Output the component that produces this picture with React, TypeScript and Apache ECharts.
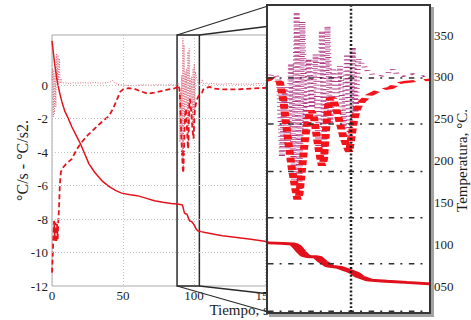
import React, { useEffect, useRef } from "react";
import * as echarts from "echarts";

// Cooling curve: temperature (°C), cooling rate (°C/s) and its derivative (°C/s²) versus time (s)
const TEMP_TIME = [0, 1, 2, 3, 4, 5.5, 7, 9, 11.5, 14, 17, 20, 23, 26, 30, 35, 40, 45, 49, 55, 60, 66, 72, 78, 84, 88, 90, 91.6, 92.1, 92.8, 93.3, 94.0, 95.0, 95.4, 95.8, 96.8, 98.2, 99.6, 100.4, 101.1, 102.5, 104.9, 107.7, 110.6, 115, 120, 130, 140, 152];
const TEMPERATURE = [343, 328, 314, 302, 292, 280, 270, 259, 250, 240, 230, 220, 208, 196, 186, 176, 169, 164, 161, 159, 158, 155, 152, 150, 148.5, 148, 147.5, 147, 145, 140, 137, 136, 136, 134, 132, 128, 127, 124, 122, 119, 116, 115, 114, 113, 111.5, 110, 108, 106, 103];

const RATE_TIME = [0, 0.5, 1.0, 1.5, 2.0, 2.5, 3.0, 3.5, 4.0, 4.5, 5.0, 5.5, 6.2, 7.5, 10, 14, 17, 20, 25, 30, 35, 40, 43, 46, 48, 50, 54, 58, 62, 67, 72, 77, 82, 86, 88.0, 88.4, 89.0, 89.7, 90.2, 90.6, 91.0, 91.4, 91.8, 92.2, 92.5, 92.9, 93.3, 93.7, 94.1, 94.5, 94.9, 95.3, 95.7, 96.0, 96.3, 96.6, 96.9, 97.3, 97.8, 98.3, 98.8, 99.3, 99.6, 99.9, 100.3, 100.8, 101.5, 102.5, 103.5, 104.5, 105.5, 106.5, 107.5, 109, 111, 114, 120, 130, 140, 152];
const COOLING_RATE = [-11.2, -10.2, -9.0, -8.1, -9.3, -8.2, -9.4, -8.3, -9.2, -8.0, -7.2, -6.0, -5.2, -4.95, -4.7, -4.4, -3.9, -3.5, -3.0, -2.6, -2.2, -1.85, -1.4, -0.8, -0.4, -0.25, -0.18, -0.22, -0.35, -0.5, -0.45, -0.35, -0.25, -0.2, -0.12, 0.0, -0.1, -0.2, -1.0, -2.0, -3.0, -3.9, -4.6, -5.25, -5.0, -3.8, -2.6, -1.8, -1.4, -1.6, -2.4, -3.2, -3.8, -3.5, -2.2, -1.2, -0.85, -0.9, -1.4, -2.0, -2.6, -3.0, -3.2, -2.6, -1.8, -1.3, -1.0, -0.75, -0.6, -0.5, -0.45, -0.25, -0.2, -0.15, -0.1, -0.2, -0.25, -0.25, -0.2, -0.15];

const ACC_TIME = [0, 0.4, 0.9, 1.3, 1.8, 2.2, 2.7, 3.2, 3.7, 4.2, 4.7, 5.2, 5.7, 6.3, 7, 9, 12, 15, 18, 22, 26, 30, 34, 38, 41, 42.5, 44, 46, 48, 52, 56, 60, 65, 70, 75, 80, 85, 88, 88.6, 89.2, 89.6, 90.0, 90.4, 90.8, 91.3, 91.7, 92.1, 92.5, 92.9, 93.3, 93.8, 94.3, 94.8, 95.2, 95.7, 96.1, 96.5, 96.9, 97.3, 97.8, 98.3, 98.8, 99.3, 99.7, 100.1, 100.5, 100.9, 101.5, 102.2, 103.0, 104, 105, 105.8, 106.6, 107.5, 108.5, 110, 111.5, 115, 120, 125, 130, 135, 140, 145, 152];
const ACCELERATION = [0.3, 1.0, -1.9, 0.9, -1.7, 0.6, -1.3, 1.9, 0.3, 1.8, 0.2, 1.6, 0.1, 0.4, 0.12, 0.15, 0.1, 0.15, 0.12, 0.15, 0.12, 0.16, 0.12, 0.15, 0.2, 0.28, 0.15, 0.05, 0.02, 0.0, -0.02, 0.0, 0.02, 0.0, 0.03, 0.0, 0.02, 0.0, 0.15, 0.05, -0.2, -3.4, -0.4, -3.1, 0.6, -4.4, 2.8, -4.9, 2.4, -2.4, 0.8, -1.3, 1.0, -3.0, 2.0, -3.6, 2.2, -2.0, 0.4, -0.9, 0.5, -2.2, 1.0, -2.8, 1.3, -1.5, 0.8, 0.55, 0.3, 0.12, 0.05, 0.15, 0.35, 0.1, 0.05, 0.15, 0.05, 0.1, 0.08, 0.05, 0.1, 0.05, 0.08, 0.05, 0.1, 0.05];

// Axis ranges and grid levels
const TIME_RANGE = [0, 266];
const TIME_STEP = 50;
const RATE_RANGE = [-12, 3];
const RATE_STEP = 2;
const TEMP_RANGE = [50, 350];
const TEMP_STEP = 50;
const RATE_GRID = [0, -2, -4, -6, -8, -10];

// Zoomed window
const ZOOM_BOX = [88, 103.7];
const INSET_TIME = [88, 111];
const INSET_RATE = [-10.07, 3.07];
const INSET_GRID_TIME = [100];

const W = 471;
const H = 320;
const INSET = { left: 268, top: 6, width: 161, height: 306 };
const INNER_W = 32;
const INNER_H = 219;

const FONT = "'Liberation Serif', 'Times New Roman', serif";
const RED = "#e4141c";

const zip = (xs: number[], ys: number[]) => xs.map((x, i) => [x, ys[i]]);
// left axis value -> right axis temperature (both axes span the same plot height)
const toTemp = (v: number) =>
  TEMP_RANGE[0] + ((v - RATE_RANGE[0]) * (TEMP_RANGE[1] - TEMP_RANGE[0])) / (RATE_RANGE[1] - RATE_RANGE[0]);

function mainOption(): any {
  const label = { fontFamily: FONT, fontSize: 13, color: "#1c1c1c" };
  return {
    animation: false,
    grid: {
      left: 52, top: 35, width: 378, height: 251,
      containLabel: false, outerBoundsMode: "none",
      show: true, borderColor: "#a8a8a8", borderWidth: 1, backgroundColor: "transparent",
    },
    xAxis: {
      type: "value", min: TIME_RANGE[0], max: TIME_RANGE[1], interval: TIME_STEP,
      name: "Tiempo, s.", nameLocation: "middle", nameGap: 16, nameMoveOverlap: false,
      nameTextStyle: { fontFamily: FONT, fontSize: 15, color: "#1c1c1c" },
      axisLine: { show: false }, axisTick: { show: false },
      axisLabel: { ...label, margin: 3, formatter: (v: number) => (v % TIME_STEP === 0 ? String(v) : "") },
      splitLine: { show: true, lineStyle: { color: "#c2c2c2", width: 1, type: [1, 2] } },
    },
    yAxis: [
      {
        type: "value", min: RATE_RANGE[0], max: RATE_RANGE[1], interval: RATE_STEP, position: "left",
        name: "°C/s - °C/s2.", nameLocation: "middle", nameRotate: 90, nameGap: 22, nameMoveOverlap: false,
        nameTextStyle: { fontFamily: FONT, fontSize: 16, color: "#1c1c1c" },
        axisLine: { show: false }, axisTick: { show: false }, splitLine: { show: false },
        axisLabel: { ...label, margin: 4, formatter: (v: number) => (v > 0 ? "" : String(v)) },
      },
      {
        type: "value", min: TEMP_RANGE[0], max: TEMP_RANGE[1], interval: TEMP_STEP, position: "right",
        name: "Temperatura, °C.", nameLocation: "middle", nameRotate: 90, nameGap: 24, nameMoveOverlap: false,
        nameTextStyle: { fontFamily: FONT, fontSize: 15, color: "#1c1c1c" },
        axisLine: { show: false }, axisTick: { show: false }, splitLine: { show: false },
        axisLabel: { ...label, margin: 4, formatter: (v: number) => String(v).padStart(3, "0") },
      },
    ],
    series: [
      {
        name: "d2T", type: "line", yAxisIndex: 0, data: zip(ACC_TIME, ACCELERATION),
        symbol: "none", lineStyle: { color: "#d8687c", width: 1, type: [1, 1.5] },
        markLine: {
          silent: true, symbol: ["none", "none"], label: { show: false }, animation: false,
          lineStyle: { color: "#c2c2c2", width: 1, type: [1, 2] },
          data: RATE_GRID.map((v) => ({ yAxis: v })),
        },
      },
      {
        name: "dT", type: "line", yAxisIndex: 0, data: zip(RATE_TIME, COOLING_RATE),
        symbol: "none", lineStyle: { color: RED, width: 1.8, type: [5, 3] },
        markArea: {
          silent: true, animation: false,
          itemStyle: { color: "rgba(0,0,0,0)", borderColor: "#2c2c2c", borderWidth: 1.5 },
          data: [[{ xAxis: ZOOM_BOX[0] }, { xAxis: ZOOM_BOX[1] }]],
        },
      },
      {
        name: "T", type: "line", yAxisIndex: 1, data: zip(TEMP_TIME, TEMPERATURE),
        symbol: "none", lineStyle: { color: RED, width: 1.5 },
      },
    ],
  };
}

function insetOption(): any {
  return {
    animation: false,
    grid: { left: 0, top: 0, right: 0, bottom: 0, containLabel: false, outerBoundsMode: "none" },
    xAxis: { type: "value", min: INSET_TIME[0], max: INSET_TIME[1], show: false },
    yAxis: [
      { type: "value", min: INSET_RATE[0], max: INSET_RATE[1], show: false },
      { type: "value", min: toTemp(INSET_RATE[0]), max: toTemp(INSET_RATE[1]), show: false },
    ],
    series: [
      {
        name: "d2T", type: "line", yAxisIndex: 0, data: zip(ACC_TIME, ACCELERATION),
        symbol: "none", lineStyle: { color: "#b03a86", width: 1.2, type: [0.6, 2.1] },
        markLine: {
          silent: true, symbol: ["none", "none"], label: { show: false }, animation: false,
          data: [
            ...RATE_GRID.map((v) => ({
              yAxis: v,
              lineStyle: { color: "#303030", width: 1.1, type: [1.1, 1.2, 0.4, 1.3] },
            })),
            ...INSET_GRID_TIME.map((t) => ({
              xAxis: t,
              lineStyle: { color: "#202020", width: 0.5, type: [1.4, 1.4] },
            })),
          ],
        },
      },
      {
        name: "dT", type: "line", yAxisIndex: 0, data: zip(RATE_TIME, COOLING_RATE),
        symbol: "none", lineStyle: { color: "#f2141a", width: 1.6, type: [3.5, 2] },
      },
      {
        name: "T", type: "line", yAxisIndex: 1, data: zip(TEMP_TIME, TEMPERATURE),
        symbol: "none", lineStyle: { color: "#e0101c", width: 2.1 },
      },
    ],
  };
}

export default function App() {
  const mainRef = useRef<HTMLDivElement>(null);
  const insetRef = useRef<HTMLDivElement>(null);

  useEffect(() => {
    const main = echarts.init(mainRef.current!, null, { renderer: "svg" });
    const inset = echarts.init(insetRef.current!, null, { renderer: "svg" });
    main.setOption(mainOption());

    // lines joining the zoom box to the corners of the magnified view
    const px = (t: number, v: number) =>
      main.convertToPixel({ xAxisIndex: 0, yAxisIndex: 0 }, [t, v]) as number[];
    const tl = px(ZOOM_BOX[0], RATE_RANGE[1]);
    const tr = px(ZOOM_BOX[1], RATE_RANGE[1]);
    const bl = px(ZOOM_BOX[0], RATE_RANGE[0]);
    const br = px(ZOOM_BOX[1], RATE_RANGE[0]);
    const x0 = INSET.left;
    const y0 = INSET.top;
    const x1 = INSET.left + INSET.width;
    const y1 = INSET.top + INSET.height;
    const seg = (a: number[], b: number[]) => ({
      type: "line", silent: true, z: 40,
      shape: { x1: a[0], y1: a[1], x2: b[0], y2: b[1] },
      style: { stroke: "#2a2a2a", lineWidth: 1.3 },
    });
    main.setOption({
      graphic: [seg(tl, [x0, y0]), seg(tr, [x1, y0]), seg(bl, [x0, y1]), seg(br, [x1, y1])],
    });

    inset.setOption(insetOption());
    return () => {
      main.dispose();
      inset.dispose();
    };
  }, []);

  return (
    <div style={{ position: "absolute", left: 0, top: 0, width: W, height: H, background: "#fff" }}>
      <div ref={mainRef} style={{ position: "absolute", left: 0, top: 0, width: W, height: H }} />
      <div
        style={{
          position: "absolute",
          left: INSET.left - 2,
          top: INSET.top - 2,
          width: INSET.width,
          height: INSET.height,
          border: "2px solid #363636",
          boxShadow: "3px 3px 0 #a3a3a3",
          background: "#fff",
          overflow: "hidden",
        }}
      >
        <div
          ref={insetRef}
          style={{
            position: "absolute",
            left: 0,
            top: 0,
            width: INNER_W,
            height: INNER_H,
            transform: `scale(${INSET.width / INNER_W}, ${INSET.height / INNER_H})`,
            transformOrigin: "0 0",
          }}
        />
      </div>
    </div>
  );
}
